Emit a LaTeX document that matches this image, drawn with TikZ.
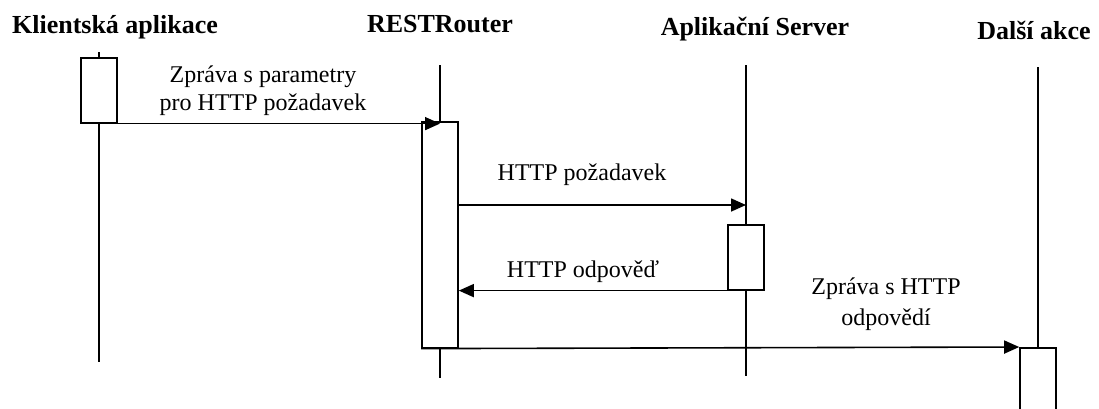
\documentclass[tikz,border=0pt]{standalone}
\usepackage{fontspec}
\setmainfont{Liberation Serif}
\usetikzlibrary{arrows.meta}
\begin{document}
\begin{tikzpicture}[x=1pt,y=-1pt,
  lbl/.style={font=\fontsize{24}{28}\selectfont, inner sep=0pt, align=center, anchor=base},
  head/.style={font=\bfseries\fontsize{26}{30}\selectfont, inner sep=0pt, anchor=base},
  life/.style={line width=1.4pt},
  act/.style={draw, line width=1.6pt, fill=white, minimum width=36pt, inner sep=0pt, anchor=north},
  msg/.style={line width=1.6pt, -{Triangle[length=15pt,width=13pt]}}]
\useasboundingbox (0,0) rectangle (1099,408);
% headings
\node[head] (hc) at (115,33) {Klientská aplikace};
\node[head] (hr) at (440,32) {RESTRouter};
\node[head] (hs) at (755,35) {Aplikační Server};
\node[head] (hd) at (1034,39) {Další akce};
% lifelines
\coordinate (ct) at (99,52);   \coordinate (cb) at (99,362);
\coordinate (rt) at (440,65);  \coordinate (rb) at (440,378);
\coordinate (st) at (746,65);  \coordinate (sb) at (746,376);
\coordinate (dt) at (1038,67); \coordinate (db) at (1038,347);
\draw[life] (ct) -- (cb);
\draw[life] (rt) -- (rb);
\draw[life] (st) -- (sb);
\draw[life] (dt) -- (db);
% activation boxes
\node[act, minimum height=65pt] (cbox) at (99,57) {};
\node[act, minimum height=226pt] (rbox) at (440,121) {};
\node[act, minimum height=65pt] (sbox) at (746,224) {};
\node[act, minimum height=75pt] (dbox) at (1038,347) {};
% messages
\coordinate (s2) at (746,205);
\draw[msg] (cbox.south east) -- (cbox.south east -| rbox.north);
\draw[msg] (rbox.east |- s2) -- (s2);
\draw[msg] (sbox.south west) -- (sbox.south west -| rbox.east);
\draw[msg] (rbox.south west) -- (dbox.north west);
% labels
\node[lbl] (l1) at (263,110) {Zpráva s parametry\\pro HTTP požadavek};
\node[lbl] (l2) at (582,180) {HTTP požadavek};
\node[lbl] (l3) at (583,277) {HTTP odpověď};
\node[lbl, font=\fontsize{24}{31}\selectfont] (l4) at (886,325) {Zpráva s HTTP\\odpovědí};
\end{tikzpicture}
\end{document}
